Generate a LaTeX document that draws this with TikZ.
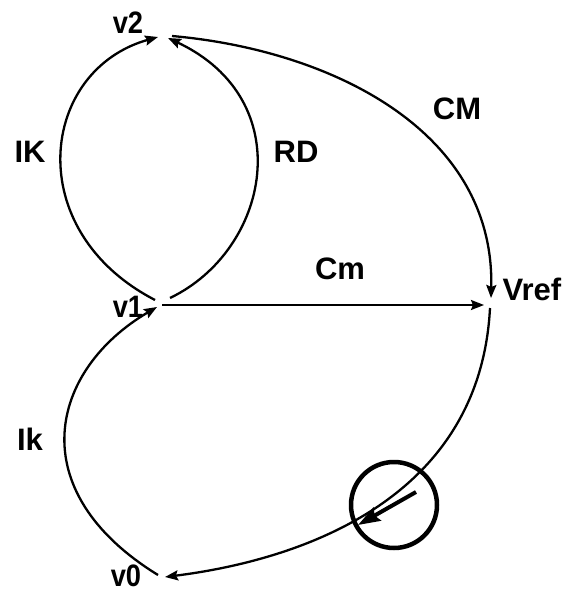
\documentclass[tikz,border=0pt]{standalone}
\usepackage{fontspec}
\setmainfont{Liberation Sans}
\usetikzlibrary{arrows.meta,calc}
\begin{document}
\begin{tikzpicture}[x=1pt,y=-1pt,
  edge/.style={line width=2.3pt,-{Stealth[length=13pt,width=10pt,inset=2pt]}},
  lbl/.style={anchor=base,inner sep=0pt,font=\bfseries\fontsize{31}{36}\selectfont},
  vlbl/.style={lbl,xscale=0.88}]
\useasboundingbox (0,0) rectangle (566,593);
% vertices
\coordinate (v2) at (164,36);
\coordinate (v1) at (162,304);
\coordinate (Vref) at (489,303);
\coordinate (v0) at (162,577);
% labels
\node[vlbl] (lv2) at (128,34) {v2};
\node[vlbl] (lv1) at (128,317) {v1};
\node[vlbl] (lv0) at (126,586) {v0};
\node[lbl] (lVref) at (532,300) {Vref};
\node[lbl] (lIK) at (30,163) {IK};
\node[lbl] (lRD) at (296,163) {RD};
\node[lbl] (lCM) at (457,120) {CM};
\node[lbl] (lCm) at (340,279) {Cm};
\node[lbl] (lIk) at (30,450) {Ik};
% edges
\draw[edge] ($(v1)+(-7,-4)$) .. controls (20,230) and (40,70) .. ($(v2)+(-6,1)$);
\draw[edge] ($(v1)+(8,-6)$) .. controls (270,250) and (300,100) .. ($(v2)+(4,2)$);
\draw[edge] ($(v2)+(8,0)$) .. controls (330,50) and (495,130) .. ($(Vref)+(2,-5)$);
\draw[edge] ($(v1)+(0,1)$) -- ($(Vref)+(-5,2)$);
\draw[edge] ($(Vref)+(1,5)$) .. controls (480,500) and (300,560) .. ($(v0)+(3,0)$);
\draw[edge] ($(v0)+(-4,-2)$) .. controls (20,490) and (50,370) .. ($(v1)+(-5,3)$);
% marker
\node[circle,draw,line width=4.5pt,minimum size=86pt,inner sep=0pt] (ring) at (394,505) {};
\coordinate (ta) at (416,492);
\coordinate (tb) at (358,525);
\draw[line width=4pt,-{Stealth[length=22pt,width=15pt,inset=3pt]}] (ta) -- (tb);
\end{tikzpicture}
\end{document}
